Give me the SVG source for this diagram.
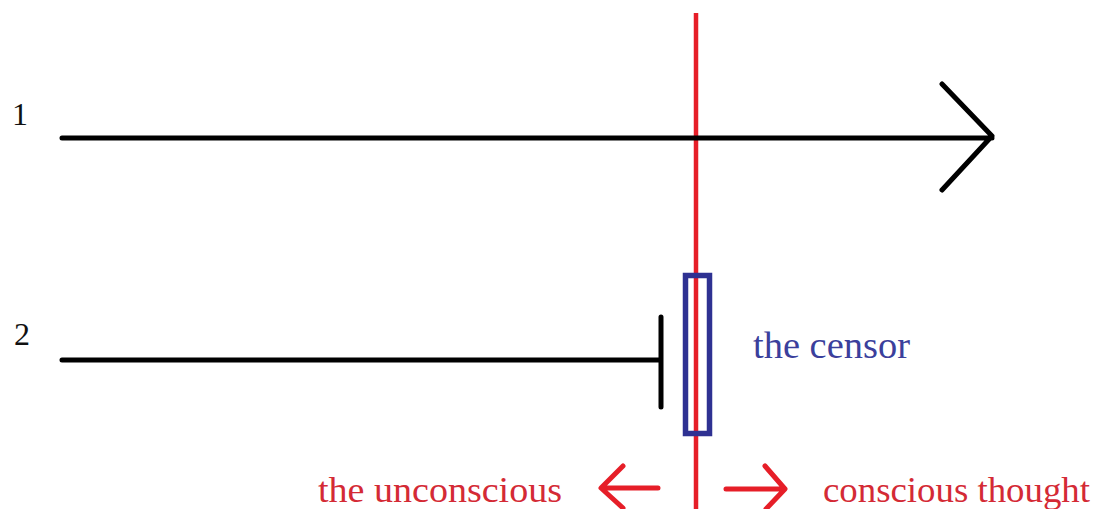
<svg xmlns="http://www.w3.org/2000/svg" width="1105" height="509" viewBox="0 0 1105 509">
<style>
.blk{stroke:#000;stroke-width:5;stroke-linecap:round;stroke-linejoin:round;fill:none}
.red{stroke:#e61e28;stroke-width:5;stroke-linecap:round;stroke-linejoin:round;fill:none}
.lbl{font-family:"Liberation Serif",serif;fill:#111}
.rt{font-family:"Liberation Serif",serif;fill:#d42a35;font-size:36px}
</style>
<rect width="1105" height="509" fill="#fff"/>
<g id="connectors">
<line class="red" x1="696" y1="13" x2="696" y2="512" style="stroke-linecap:butt;stroke-width:4.5"/>
<path class="blk" d="M62 138 H992 M942 84 L992 136 L942 190"/>
<path class="blk" d="M62 360 H660 M661 317 V407"/>
<path class="red" d="M658 488 H602 M623 466 L601 488 L623 508"/>
<path class="red" d="M726 489 H784 M765 466 L785 489 L766 509"/>
</g>
<g id="censor">
<rect x="685.5" y="275.5" width="24" height="158" fill="none" stroke="#2e3192" stroke-width="5.5"/>
<text x="753" y="358" font-family="Liberation Serif,serif" font-size="38" fill="#3b3f9c" textLength="157" lengthAdjust="spacingAndGlyphs">the censor</text>
</g>
<g id="label1"><text class="lbl" x="12" y="125" font-size="32">1</text></g>
<g id="label2"><text class="lbl" x="14" y="345" font-size="32">2</text></g>
<g id="unconscious"><text class="rt" x="318" y="502" textLength="244" lengthAdjust="spacingAndGlyphs">the unconscious</text></g>
<g id="conscious"><text class="rt" x="823" y="502" textLength="267" lengthAdjust="spacingAndGlyphs">conscious thought</text></g>
</svg>
